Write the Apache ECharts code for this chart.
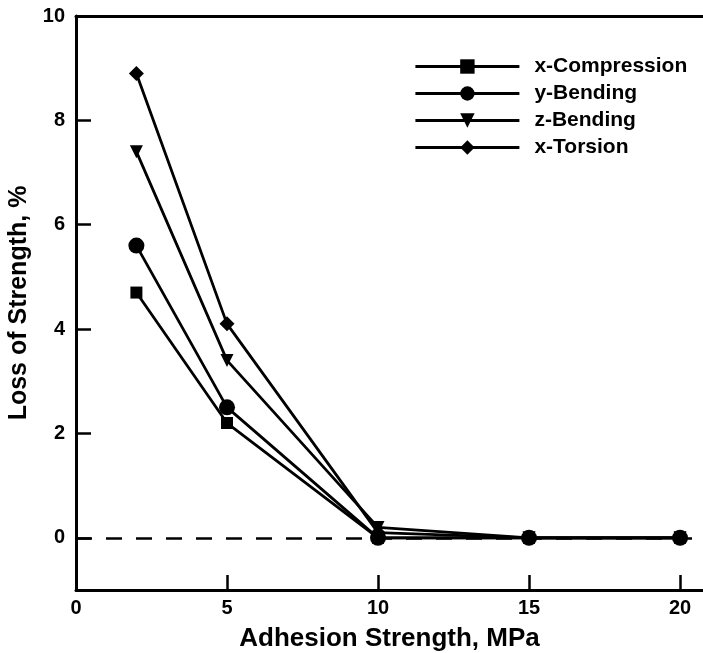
<!DOCTYPE html>
<html>
<head>
<meta charset="utf-8">
<script src="https://cdn.jsdelivr.net/npm/echarts@6/dist/echarts.min.js"></script>
<style>html,body{margin:0;padding:0;background:#fff}#c{width:703px;height:653px}</style>
</head>
<body>
<div id="c"></div>
<script>
var xValues = [2, 5, 10, 15, 20];
var xCompression = [4.7, 2.2, 0.0, 0.0, 0.0];
var yBending = [5.6, 2.5, 0.0, 0.0, 0.0];
var zBending = [7.4, 3.4, 0.2, 0.0, 0.0];
var xTorsion = [8.9, 4.1, 0.1, 0.0, 0.0];
var xTicks = [0, 5, 10, 15, 20];
var yTicks = [0, 2, 4, 6, 8, 10];
var seriesNames = ['x-Compression', 'y-Bending', 'z-Bending', 'x-Torsion'];

function pairs(ys) { return xValues.map(function (x, i) { return [x, ys[i]]; }); }

var FONT = '"Liberation Sans", Arial, sans-serif';
var lineStyle = { color: '#000', width: 2.8 };

var chart = echarts.init(document.getElementById('c'), null, { renderer: 'canvas' });
chart.setOption({
  animation: false,
  backgroundColor: '#fff',
  grid: { left: 76, top: 16, right: 0, bottom: 63, show: false, containLabel: false, outerBoundsMode: 'none' },
  legend: {
    orient: 'vertical', left: 409, top: 51, itemWidth: 104, itemHeight: 18, itemGap: 6,
    data: seriesNames,
    lineStyle: { width: 2.8, color: '#000' },
    textStyle: { fontFamily: FONT, fontWeight: 'bold', fontSize: 21, color: '#000', padding: [0, 0, 0, 10] }
  },
  xAxis: [{
    type: 'value', min: 0, max: 20.76,
    name: 'Adhesion Strength, MPa', nameLocation: 'middle', nameGap: 36,
    nameTextStyle: { fontFamily: FONT, fontWeight: 'bold', fontSize: 26, color: '#000' },
    axisLine: { show: true, onZero: false, lineStyle: { color: '#000', width: 3 } },
    axisTick: { show: true, inside: true, length: 15, lineStyle: { color: '#000', width: 2.5 }, customValues: xTicks },
    axisLabel: { fontFamily: FONT, fontWeight: 'bold', fontSize: 20, color: '#000', margin: 8, customValues: xTicks },
    splitLine: { show: false }
  }, {
    type: 'value', min: 0, max: 20.76, position: 'top',
    axisLine: { show: true, onZero: false, lineStyle: { color: '#000', width: 3 } },
    axisTick: { show: false }, axisLabel: { show: false }, splitLine: { show: false }
  }],
  yAxis: {
    type: 'value', min: -1, max: 10,
    name: 'Loss of Strength, %', nameLocation: 'middle', nameGap: 33,
    nameTextStyle: { fontFamily: FONT, fontWeight: 'bold', fontSize: 25, color: '#000' },
    axisLine: { show: true, onZero: false, lineStyle: { color: '#000', width: 3 } },
    axisTick: { show: true, inside: true, length: 15, lineStyle: { color: '#000', width: 2.5 }, customValues: yTicks },
    axisLabel: { fontFamily: FONT, fontWeight: 'bold', fontSize: 20, color: '#000', margin: 11, customValues: yTicks },
    splitLine: { show: false }
  },
  series: [
    {
      name: seriesNames[0], type: 'line', data: pairs(xCompression), symbol: 'rect', symbolSize: 12,
      lineStyle: lineStyle, itemStyle: { color: '#000' }, z: 3,
      markLine: {
        silent: true, symbol: 'none', label: { show: false },
        lineStyle: { color: '#000', width: 2.5, type: [16, 14] },
        data: [{ yAxis: 0 }]
      }
    },
    {
      name: seriesNames[1], type: 'line', data: pairs(yBending), symbol: 'circle', symbolSize: 16,
      lineStyle: lineStyle, itemStyle: { color: '#000' }, z: 6
    },
    {
      name: seriesNames[2], type: 'line', data: pairs(zBending), symbol: 'triangle', symbolRotate: 180, symbolSize: 13,
      lineStyle: lineStyle, itemStyle: { color: '#000' }, z: 4
    },
    {
      name: seriesNames[3], type: 'line', data: pairs(xTorsion), symbol: 'diamond', symbolSize: 15,
      lineStyle: lineStyle, itemStyle: { color: '#000' }, z: 5
    }
  ]
});
</script>
</body>
</html>
